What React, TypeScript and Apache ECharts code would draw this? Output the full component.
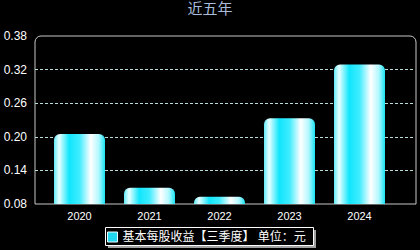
import React, { useEffect, useRef } from "react";
import * as echarts from "echarts";

const titleText = "近五年";
const categories = ["2020", "2021", "2022", "2023", "2024"];
const values = [0.205, 0.109, 0.093, 0.233, 0.329];
const seriesName = "基本每股收益【三季度】 单位：元";
const yMin = 0.08;
const yMax = 0.38;
const yStep = 0.06;

const FONT = "'Liberation Sans', 'Noto Sans CJK SC', sans-serif";

export default function App() {
  const ref = useRef<HTMLDivElement>(null);
  useEffect(() => {
    document.body.style.margin = "0";
    document.body.style.background = "#000";
    const chart = echarts.init(ref.current!, null, { renderer: "svg" });
    const barGradient = new echarts.graphic.LinearGradient(0, 0, 1, 0, [
      { offset: 0, color: "#60eaf8" },
      { offset: 0.1, color: "#e8ffff" },
      { offset: 0.3, color: "#10e6fc" },
      { offset: 0.5, color: "#40ecff" },
      { offset: 0.72, color: "#ffffff" },
      { offset: 0.88, color: "#b0f8ff" },
      { offset: 1, color: "#18e2f4" },
    ]);
    chart.setOption({
      animation: false,
      backgroundColor: "#000",
      title: {
        text: titleText,
        left: "center",
        top: -4,
        textStyle: { color: "#a8bcd8", fontSize: 15, fontWeight: "normal", fontFamily: FONT },
      },
      grid: [
        { left: 35, right: 5, top: 36, bottom: 46 },
        { left: 44.5, right: 25.5, top: 36, bottom: 46 },
      ],
      xAxis: [
        { type: "value", gridIndex: 0, show: false, min: 0, max: 1 },
        {
          type: "category",
          gridIndex: 1,
          data: categories,
          axisLine: { show: false },
          axisTick: { show: false },
          axisLabel: { color: "#ffffff", fontSize: 11, margin: 6, fontFamily: FONT },
        },
      ],
      yAxis: [
        {
          type: "value",
          gridIndex: 0,
          min: yMin,
          max: yMax,
          interval: yStep,
          axisLine: { show: false },
          axisTick: { show: false },
          axisLabel: {
            color: "#ffffff",
            fontSize: 12,
            margin: 8,
            fontFamily: FONT,
            formatter: (v: number) => v.toFixed(2),
          },
          splitLine: {
            show: true,
            showMinLine: false,
            showMaxLine: false,
            lineStyle: { color: "#b8dcdc", type: [3, 2], width: 1 },
          },
        },
        { type: "value", gridIndex: 1, min: yMin, max: yMax, show: false },
      ],
      legend: {
        left: 107,
        top: 231,
        padding: 0,
        itemWidth: 10,
        itemHeight: 10,
        icon: "rect",
        itemStyle: { color: "#22d8f0", borderColor: "#e8ffff", borderWidth: 1 },
        textStyle: { color: "#ffffff", fontSize: 12, fontFamily: FONT },
        data: [seriesName],
      },
      graphic: [
        {
          type: "rect",
          z: -1,
          shape: { x: 35, y: 36, width: 381, height: 168, r: [6, 6, 0, 0] },
          style: { fill: "none", stroke: "#c8c8c8", lineWidth: 1 },
          silent: true,
        },
        {
          type: "rect",
          z: -2,
          shape: { x: 108, y: 230, width: 208, height: 18 },
          style: { fill: "#a0a0a0" },
          silent: true,
        },
        {
          type: "rect",
          z: -1,
          shape: { x: 105.5, y: 227.5, width: 208, height: 18 },
          style: { fill: "#000000", stroke: "#ffffff", lineWidth: 1 },
          silent: true,
        },
      ],
      series: [
        {
          name: seriesName,
          type: "bar",
          xAxisIndex: 1,
          yAxisIndex: 1,
          data: values,
          barWidth: 51,
          itemStyle: { color: barGradient, borderRadius: [6, 6, 0, 0] },
        },
      ],
    });
    return () => chart.dispose();
  }, []);
  return <div ref={ref} style={{ width: 420, height: 250 }} />;
}
